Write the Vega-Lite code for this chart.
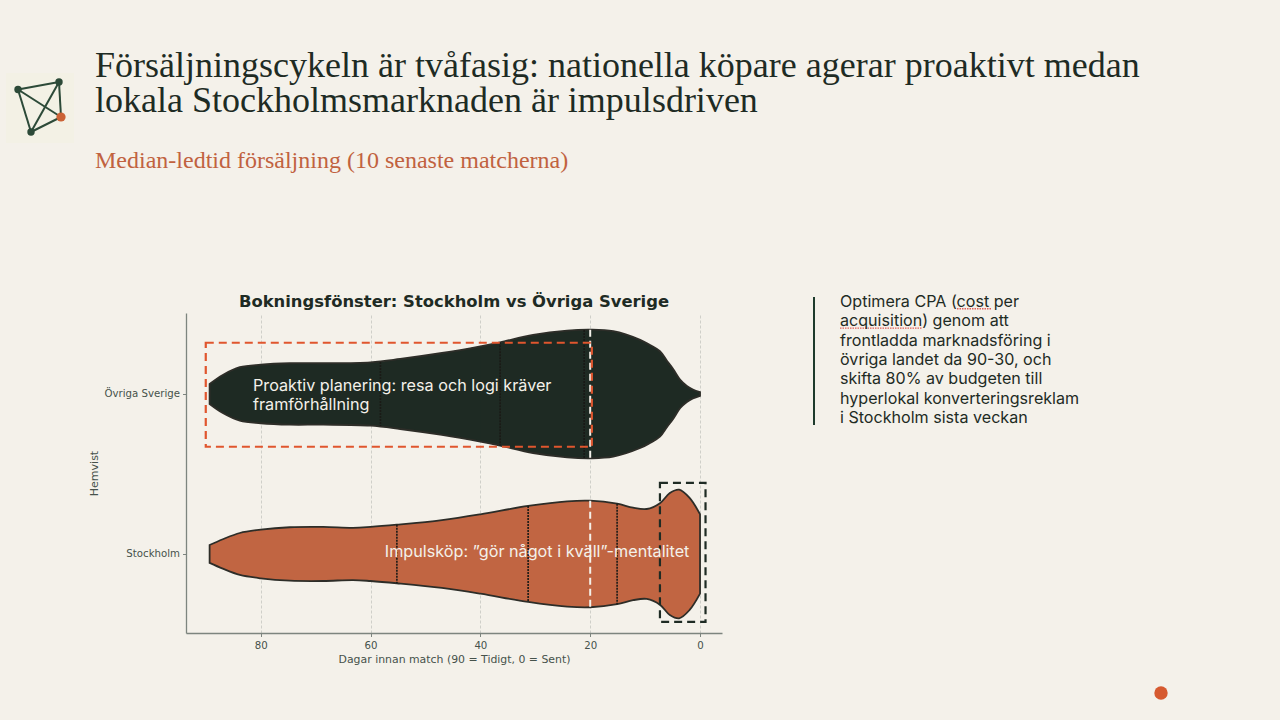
{
  "$schema": "https://vega.github.io/schema/vega-lite/v6.json",
  "background": "#F4F1EA",
  "padding": {"left": 6, "top": 47, "right": 0, "bottom": 10},
  "spacing": 10,
  "datasets": {
    "nodes": [
      {"node": "A", "px": 12, "py": 41.5, "kind": "dark"},
      {"node": "B", "px": 53, "py": 34, "kind": "dark"},
      {"node": "C", "px": 55, "py": 69, "kind": "accent"},
      {"node": "D", "px": 25, "py": 84, "kind": "dark"}
    ],
    "edges": [
      {"ax": 12, "ay": 41.5, "bx": 53, "by": 34},
      {"ax": 12, "ay": 41.5, "bx": 55, "by": 69},
      {"ax": 12, "ay": 41.5, "bx": 25, "by": 84},
      {"ax": 53, "ay": 34, "bx": 55, "by": 69},
      {"ax": 53, "ay": 34, "bx": 25, "by": 84},
      {"ax": 55, "ay": 69, "bx": 25, "by": 84}
    ],
    "violin": [
      {"group": "Övriga Sverige", "day": 89.3, "lo": -0.0625, "hi": 0.0625},
      {"group": "Övriga Sverige", "day": 86.9, "lo": -0.119, "hi": 0.119},
      {"group": "Övriga Sverige", "day": 83.8, "lo": -0.167, "hi": 0.167},
      {"group": "Övriga Sverige", "day": 80, "lo": -0.183, "hi": 0.183},
      {"group": "Övriga Sverige", "day": 74.7, "lo": -0.192, "hi": 0.192},
      {"group": "Övriga Sverige", "day": 68.6, "lo": -0.192, "hi": 0.192},
      {"group": "Övriga Sverige", "day": 60, "lo": -0.198, "hi": 0.198},
      {"group": "Övriga Sverige", "day": 54.6, "lo": -0.219, "hi": 0.219},
      {"group": "Övriga Sverige", "day": 47, "lo": -0.256, "hi": 0.256},
      {"group": "Övriga Sverige", "day": 40, "lo": -0.298, "hi": 0.298},
      {"group": "Övriga Sverige", "day": 36.4, "lo": -0.323, "hi": 0.323},
      {"group": "Övriga Sverige", "day": 30.4, "lo": -0.369, "hi": 0.369},
      {"group": "Övriga Sverige", "day": 24.2, "lo": -0.396, "hi": 0.396},
      {"group": "Övriga Sverige", "day": 20, "lo": -0.402, "hi": 0.402},
      {"group": "Övriga Sverige", "day": 15.8, "lo": -0.392, "hi": 0.392},
      {"group": "Övriga Sverige", "day": 10.9, "lo": -0.338, "hi": 0.338},
      {"group": "Övriga Sverige", "day": 9.1, "lo": -0.306, "hi": 0.306},
      {"group": "Övriga Sverige", "day": 7.3, "lo": -0.267, "hi": 0.267},
      {"group": "Övriga Sverige", "day": 6, "lo": -0.206, "hi": 0.206},
      {"group": "Övriga Sverige", "day": 4.9, "lo": -0.156, "hi": 0.156},
      {"group": "Övriga Sverige", "day": 3.6, "lo": -0.088, "hi": 0.088},
      {"group": "Övriga Sverige", "day": 2.4, "lo": -0.05, "hi": 0.05},
      {"group": "Övriga Sverige", "day": 1.3, "lo": -0.028, "hi": 0.028},
      {"group": "Övriga Sverige", "day": 0, "lo": -0.012, "hi": 0.012},
      {"group": "Stockholm", "day": 89.3, "lo": 0.944, "hi": 1.056},
      {"group": "Stockholm", "day": 86.9, "lo": 0.908, "hi": 1.092},
      {"group": "Stockholm", "day": 83.8, "lo": 0.869, "hi": 1.131},
      {"group": "Stockholm", "day": 80, "lo": 0.848, "hi": 1.152},
      {"group": "Stockholm", "day": 74.7, "lo": 0.833, "hi": 1.167},
      {"group": "Stockholm", "day": 68.6, "lo": 0.831, "hi": 1.169},
      {"group": "Stockholm", "day": 63.2, "lo": 0.837, "hi": 1.163},
      {"group": "Stockholm", "day": 60, "lo": 0.831, "hi": 1.169},
      {"group": "Stockholm", "day": 55.2, "lo": 0.817, "hi": 1.183},
      {"group": "Stockholm", "day": 47, "lo": 0.788, "hi": 1.212},
      {"group": "Stockholm", "day": 40, "lo": 0.752, "hi": 1.248},
      {"group": "Stockholm", "day": 31.3, "lo": 0.7, "hi": 1.3},
      {"group": "Stockholm", "day": 24.2, "lo": 0.671, "hi": 1.329},
      {"group": "Stockholm", "day": 20, "lo": 0.667, "hi": 1.333},
      {"group": "Stockholm", "day": 15.1, "lo": 0.686, "hi": 1.314},
      {"group": "Stockholm", "day": 12.2, "lo": 0.711, "hi": 1.289},
      {"group": "Stockholm", "day": 9.7, "lo": 0.719, "hi": 1.281},
      {"group": "Stockholm", "day": 7.3, "lo": 0.683, "hi": 1.317},
      {"group": "Stockholm", "day": 5.5, "lo": 0.619, "hi": 1.381},
      {"group": "Stockholm", "day": 3.8, "lo": 0.598, "hi": 1.402},
      {"group": "Stockholm", "day": 1.9, "lo": 0.65, "hi": 1.35},
      {"group": "Stockholm", "day": 0, "lo": 0.752, "hi": 1.248}
    ],
    "quartiles": [
      {"group": "Övriga Sverige", "day": 58.2, "lo": -0.2, "hi": 0.2},
      {"group": "Övriga Sverige", "day": 36.4, "lo": -0.323, "hi": 0.323},
      {"group": "Övriga Sverige", "day": 21.1, "lo": -0.4, "hi": 0.4},
      {"group": "Stockholm", "day": 55.2, "lo": 0.817, "hi": 1.183},
      {"group": "Stockholm", "day": 31.3, "lo": 0.7, "hi": 1.3},
      {"group": "Stockholm", "day": 15.1, "lo": 0.686, "hi": 1.314}
    ],
    "medians": [
      {"group": "Övriga Sverige", "day": 20, "lo": -0.402, "hi": 0.402},
      {"group": "Stockholm", "day": 20, "lo": 0.667, "hi": 1.333}
    ]
  },
  "vconcat": [
    {
      "hconcat": [
        {
          "width": 68,
          "height": 105,
          "layer": [
            {
              "data": {"values": [{"x0": 0, "x1": 68, "y0": 25, "y1": 95}]},
              "mark": {"type": "rect", "fill": "#F3F1E5"},
              "encoding": {
                "x": {"field": "x0", "type": "quantitative", "scale": {"domain": [0, 68], "nice": false}, "axis": null},
                "x2": {"field": "x1"},
                "y": {"field": "y0", "type": "quantitative", "scale": {"domain": [0, 105], "reverse": true, "nice": false}, "axis": null},
                "y2": {"field": "y1"}
              }
            },
            {
              "data": {"name": "edges"},
              "mark": {"type": "rule", "stroke": "#2C4A38", "strokeWidth": 2},
              "encoding": {
                "x": {"field": "ax", "type": "quantitative"},
                "x2": {"field": "bx"},
                "y": {"field": "ay", "type": "quantitative"},
                "y2": {"field": "by"}
              }
            },
            {
              "data": {"name": "nodes"},
              "mark": {"type": "circle", "opacity": 1},
              "encoding": {
                "x": {"field": "px", "type": "quantitative"},
                "y": {"field": "py", "type": "quantitative"},
                "color": {"field": "kind", "type": "nominal", "scale": {"domain": ["dark", "accent"], "range": ["#2C4A38", "#CB6236"]}, "legend": null},
                "size": {"field": "kind", "type": "nominal", "scale": {"domain": ["dark", "accent"], "range": [55, 85]}, "legend": null}
              }
            }
          ]
        },
        {
          "width": 1185,
          "height": 105,
          "data": {"values": [
            {"line": "1", "kind": "title", "label": "Försäljningscykeln är tvåfasig: nationella köpare agerar proaktivt medan"},
            {"line": "2", "kind": "title", "label": "lokala Stockholmsmarknaden är impulsdriven"},
            {"line": "3", "kind": "subtitle", "label": "Median-ledtid försäljning (10 senaste matcherna)"}
          ]},
          "layer": [
            {
              "transform": [{"filter": "datum.kind === 'title'"}],
              "mark": {"type": "text", "align": "left", "baseline": "middle", "font": "Liberation Serif", "fontSize": 36, "color": "#1E2B24"},
              "encoding": {
                "x": {"datum": 0, "type": "quantitative", "scale": {"domain": [0, 1], "nice": false}, "axis": null},
                "y": {"field": "line", "type": "ordinal", "scale": {"domain": ["1", "2", "3"]}, "axis": null},
                "text": {"field": "label"}
              }
            },
            {
              "transform": [{"filter": "datum.kind === 'subtitle'"}],
              "mark": {"type": "text", "align": "left", "baseline": "middle", "font": "Liberation Serif", "fontSize": 24, "color": "#C1623F", "dy": 25},
              "encoding": {
                "x": {"datum": 0, "type": "quantitative", "scale": {"domain": [0, 1], "nice": false}, "axis": null},
                "y": {"field": "line", "type": "ordinal", "scale": {"domain": ["1", "2", "3"]}, "axis": null},
                "text": {"field": "label"}
              }
            }
          ]
        }
      ],
      "spacing": 21
    },
    {
      "width": 10,
      "height": 100,
      "data": {"values": []},
      "mark": "rect"
    },
    {
      "hconcat": [
        {
          "width": 62,
          "height": 320,
          "data": {"values": []},
          "mark": "rect"
        },
        {
          "width": 536,
          "height": 320,
          "title": {"text": "Bokningsfönster: Stockholm vs Övriga Sverige", "font": "DejaVu Sans", "fontWeight": "bold", "fontSize": 16.4, "color": "#1E2B24", "anchor": "middle", "offset": 3},
          "layer": [
            {
              "data": {"name": "violin"},
              "mark": {"type": "area", "orient": "vertical", "interpolate": "catmull-rom", "stroke": "#2A2A25", "strokeWidth": 1.8, "opacity": 0.98},
              "encoding": {
                "x": {
                  "field": "day",
                  "type": "quantitative",
                  "scale": {"domain": [93.6, -4], "nice": false, "zero": false},
                  "axis": {
                    "values": [80, 60, 40, 20, 0],
                    "title": "Dagar innan match (90 = Tidigt, 0 = Sent)",
                    "titleFont": "DejaVu Sans", "titleFontSize": 10.9, "titleFontWeight": "normal", "titleColor": "#46524B", "titlePadding": 3,
                    "labelFont": "DejaVu Sans", "labelFontSize": 10.2, "labelColor": "#46524B", "labelPadding": 4,
                    "domainColor": "#7D857F", "domainWidth": 1.3, "tickColor": "#7D857F", "tickSize": 3.5,
                    "grid": true, "gridColor": "#CFCFC9", "gridDash": [3, 2], "gridWidth": 1
                  }
                },
                "y": {
                  "field": "lo",
                  "type": "quantitative",
                  "stack": null,
                  "scale": {"domain": [-0.506, 1.494], "reverse": true, "nice": false, "zero": false},
                  "axis": {
                    "values": [0, 1],
                    "labelExpr": "datum.value === 0 ? 'Övriga Sverige' : 'Stockholm'",
                    "title": "Hemvist",
                    "titleFont": "DejaVu Sans", "titleFontSize": 11, "titleFontWeight": "normal", "titleColor": "#46524B", "titlePadding": 4,
                    "labelFont": "DejaVu Sans", "labelFontSize": 10.2, "labelColor": "#46524B", "labelPadding": 3,
                    "domainColor": "#7D857F", "domainWidth": 1.3, "tickColor": "#7D857F", "tickSize": 3.5,
                    "grid": false
                  }
                },
                "y2": {"field": "hi"},
                "fill": {"field": "group", "type": "nominal", "scale": {"domain": ["Övriga Sverige", "Stockholm"], "range": ["#1A2720", "#C1633F"]}, "legend": null}
              }
            },
            {
              "data": {"name": "quartiles"},
              "mark": {"type": "rule", "stroke": "#1A1A16", "strokeWidth": 1.6, "strokeDash": [2, 1]},
              "encoding": {
                "x": {"field": "day", "type": "quantitative"},
                "y": {"field": "lo", "type": "quantitative"},
                "y2": {"field": "hi"}
              }
            },
            {
              "data": {"name": "medians"},
              "mark": {"type": "rule", "stroke": "#F4F1EA", "strokeWidth": 2, "strokeDash": [7, 4]},
              "encoding": {
                "x": {"field": "day", "type": "quantitative"},
                "y": {"field": "lo", "type": "quantitative"},
                "y2": {"field": "hi"}
              }
            },
            {
              "data": {"values": [
                {"box": "Proaktiv", "from": 90, "to": 19.7, "top": -0.32, "bottom": 0.33},
                {"box": "Impuls", "from": 7.3, "to": -1, "top": 0.556, "bottom": 1.425}
              ]},
              "mark": {"type": "rect", "fillOpacity": 0, "strokeWidth": 2.2, "strokeDash": [8, 5]},
              "encoding": {
                "x": {"field": "from", "type": "quantitative"},
                "x2": {"field": "to"},
                "y": {"field": "top", "type": "quantitative"},
                "y2": {"field": "bottom"},
                "stroke": {"field": "box", "type": "nominal", "scale": {"domain": ["Proaktiv", "Impuls"], "range": ["#E0562E", "#1E2B24"]}, "legend": null}
              }
            },
            {
              "data": {"values": [
                {"day": 81.4, "pos": -0.05, "label": "Proaktiv planering: resa och logi kräver"},
                {"day": 81.4, "pos": 0.07, "label": "framförhållning"},
                {"day": 57.4, "pos": 0.99, "label": "Impulsköp: ”gör något i kväll”-mentalitet"}
              ]},
              "mark": {"type": "text", "align": "left", "baseline": "middle", "font": "Inter", "fontSize": 16.2, "color": "#F4F1EA"},
              "encoding": {
                "x": {"field": "day", "type": "quantitative"},
                "y": {"field": "pos", "type": "quantitative"},
                "text": {"field": "label"}
              }
            }
          ]
        },
        {
          "width": 400,
          "height": 112,
          "layer": [
            {
              "data": {"values": [{"part": "divider"}]},
              "mark": {"type": "rule", "stroke": "#1E3B2C", "strokeWidth": 2, "yOffset": -16},
              "encoding": {
                "x": {"datum": 72, "type": "quantitative", "scale": {"domain": [0, 400], "nice": false}, "axis": null}
              }
            },
            {
              "data": {"values": [
                {"line": "1", "from": 215, "to": 250},
                {"line": "2", "from": 98, "to": 180}
              ]},
              "mark": {"type": "rule", "stroke": "#E0605A", "strokeWidth": 1.4, "strokeDash": [1.5, 1], "yOffset": -9},
              "encoding": {
                "x": {"field": "from", "type": "quantitative", "scale": {"domain": [0, 400], "nice": false}, "axis": null},
                "x2": {"field": "to"},
                "y": {"field": "line", "type": "ordinal", "scale": {"range": [-5, 131]}, "axis": null}
              }
            },
            {
              "data": {"values": [
                {"line": "1", "label": "Optimera CPA (cost per"},
                {"line": "2", "label": "acquisition) genom att"},
                {"line": "3", "label": "frontladda marknadsföring i"},
                {"line": "4", "label": "övriga landet da 90-30, och"},
                {"line": "5", "label": "skifta 80% av budgeten till"},
                {"line": "6", "label": "hyperlokal konverteringsreklam"},
                {"line": "7", "label": "i Stockholm sista veckan"}
              ]},
              "mark": {"type": "text", "align": "left", "baseline": "middle", "font": "Inter", "fontSize": 16.1, "color": "#1E2B24", "dy": -16},
              "encoding": {
                "x": {"datum": 98, "type": "quantitative", "scale": {"domain": [0, 400], "nice": false}, "axis": null},
                "y": {"field": "line", "type": "ordinal", "scale": {"range": [-5, 131]}, "axis": null},
                "text": {"field": "label"}
              }
            }
          ]
        }
      ],
      "spacing": 20
    },
    {
      "width": 1274,
      "height": 36,
      "data": {"values": [{"marker": "page"}]},
      "mark": {"type": "circle", "color": "#D65A30", "opacity": 1, "size": 180},
      "encoding": {
        "x": {"datum": 1155, "type": "quantitative", "scale": {"domain": [0, 1274], "nice": false}, "axis": null}
      }
    }
  ],
  "config": {
    "view": {"stroke": null},
    "concat": {"spacing": 10}
  }
}
